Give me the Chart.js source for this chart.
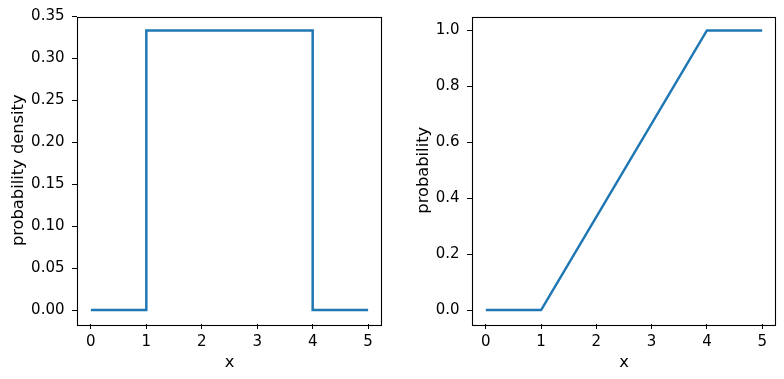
<!DOCTYPE html>
<html>
<head>
<meta charset="utf-8">
<script src="https://cdn.jsdelivr.net/npm/chart.js@4.4.1/dist/chart.umd.min.js"></script>
<style>
  html, body { margin: 0; padding: 0; background: #fff; }
  body { width: 784px; height: 379px; position: relative; overflow: hidden; }
  canvas { position: absolute; top: 0; }
</style>
</head>
<body>
<canvas id="pdf" width="392" height="379" style="left:0px"></canvas>
<canvas id="cdf" width="392" height="379" style="left:392px"></canvas>
<script>
// ---- data ----
const xTicks = [0, 1, 2, 3, 4, 5];
const pdfX = [0, 1, 1, 4, 4, 5];
const pdfY = [0, 0, 0.3333, 0.3333, 0, 0];
const cdfX = [0, 1, 4, 5];
const cdfY = [0, 0, 1, 1];
const pdfTicks = [0.00, 0.05, 0.10, 0.15, 0.20, 0.25, 0.30, 0.35];
const cdfTicks = [0.0, 0.2, 0.4, 0.6, 0.8, 1.0];
const pdfLabel = 'probability density';
const cdfLabel = 'probability';
const xLabel = 'x';

const TICKFONT = { family: '"DejaVu Sans", sans-serif', size: 15 };
const LABELFONT = { family: '"DejaVu Sans", sans-serif', size: 16.3 };
const LINE = '#1f77b4';

const boxPlugin = {
  id: 'box',
  afterDraw(chart) {
    const a = chart.chartArea, ctx = chart.ctx;
    ctx.save();
    ctx.strokeStyle = '#000';
    ctx.lineWidth = 1.1;
    ctx.strokeRect(Math.round(a.left) + 0.5, Math.round(a.top) + 0.5,
                   Math.round(a.right - a.left) - 1, Math.round(a.bottom - a.top));
    ctx.restore();
  }
};

function makeChart(id, xs, ys, yTicks, yMin, yMax, yLabel, decimals, cfg) {
  const pts = xs.map((x, i) => ({ x: x, y: ys[i] }));
  return new Chart(document.getElementById(id), {
    type: 'line',
    data: { datasets: [{ data: pts, borderColor: LINE, borderWidth: 2.5,
      pointRadius: 0, tension: 0, fill: false }] },
    options: {
      responsive: false, animation: false, devicePixelRatio: 1,
      layout: { padding: { top: 16, right: cfg.padRight, left: 0, bottom: 0 } },
      plugins: { legend: { display: false }, tooltip: { enabled: false } },
      scales: {
        x: {
          type: 'linear', min: -0.25, max: 5.25,
          afterBuildTicks: s => { s.ticks = xTicks.map(v => ({ value: v })); },
          afterFit: s => { s.height = 55; },
          ticks: { color: '#000', font: TICKFONT, padding: 4.5, maxRotation: 0,
                   callback: v => String(v) },
          grid: { drawOnChartArea: false, drawTicks: true, tickLength: 5,
                  tickColor: '#000', tickWidth: 1 },
          border: { display: false },
          title: { display: true, text: xLabel, color: '#000', font: LABELFONT,
                   padding: { top: 0, bottom: 6.5 } }
        },
        y: {
          type: 'linear', min: yMin, max: yMax,
          afterBuildTicks: s => { s.ticks = yTicks.map(v => ({ value: v })); },
          afterFit: s => { s.width = cfg.yWidth; },
          ticks: { color: '#000', font: TICKFONT, padding: 7.5,
                   callback: v => Number(v).toFixed(decimals) },
          grid: { drawOnChartArea: false, drawTicks: true, tickLength: 5,
                  tickColor: '#000', tickWidth: 1 },
          border: { display: false },
          title: { display: true, text: yLabel, color: '#000', font: LABELFONT,
                   padding: { top: cfg.titlePad, bottom: 0 } }
        }
      }
    },
    plugins: [boxPlugin]
  });
}

makeChart('pdf', pdfX, pdfY, pdfTicks, -0.016667, 0.35, pdfLabel, 2,
          { padRight: 10, yWidth: 77, titlePad: 8.5 });
makeChart('cdf', cdfX, cdfY, cdfTicks, -0.05, 1.05, cdfLabel, 1,
          { padRight: 8, yWidth: 80, titlePad: 21.5 });
</script>
</body>
</html>
